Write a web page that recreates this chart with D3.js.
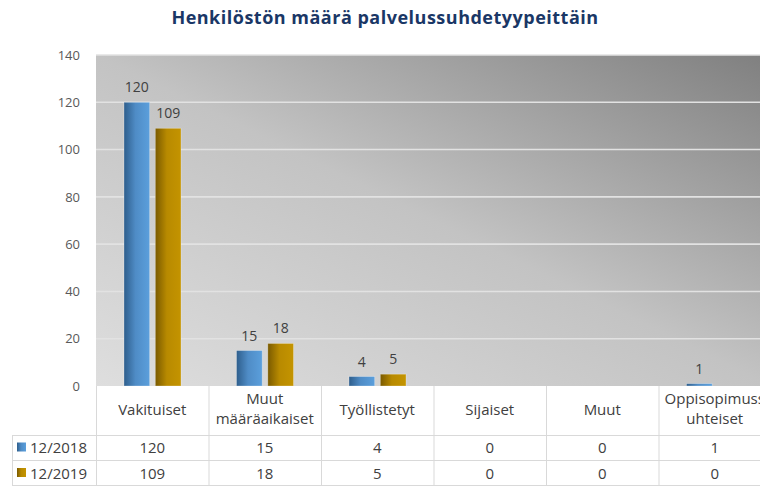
<!DOCTYPE html>
<html>
<head>
<meta charset="utf-8">
<script src="https://cdn.jsdelivr.net/npm/d3@7"></script>
<style>
  body { margin: 0; background: #fff; }
  svg { display: block; font-family: "Open Sans", sans-serif; }
</style>
</head>
<body>
<div id="chart"></div>
<script>
const width = 760;
const height = 486;
const margin = {top: 55, right: -11, bottom: 100, left: 96};

// Data
const categories = ['Vakituiset', 'Muut määräaikaiset', 'Työllistetyt', 'Sijaiset', 'Muut', 'Oppisopimussuhteiset'];
const categoryLines = [['Vakituiset'], ['Muut', 'määräaikaiset'], ['Työllistetyt'], ['Sijaiset'], ['Muut'], ['Oppisopimuss', 'uhteiset']];
const seriesNames = ['12/2018', '12/2019'];
const values2018 = [120, 15, 4, 0, 0, 1];
const values2019 = [109, 18, 5, 0, 0, 0];
const yTicks = [0, 20, 40, 60, 80, 100, 120, 140];

const seriesValues = [values2018, values2019];
const plotBottom = height - margin.bottom;

let svg = d3.select('#chart')
  .append('svg')
    .attr('width', width)
    .attr('height', height);

// Gradients
let defs = svg.append('defs');
let bg = defs.append('linearGradient')
  .attr('id', 'bg-grad')
  .attr('x1', 0).attr('y1', 1).attr('x2', 1).attr('y2', 0);
bg.append('stop').attr('offset', 0).attr('stop-color', '#dedede');
bg.append('stop').attr('offset', 0.5).attr('stop-color', '#c3c3c3');
bg.append('stop').attr('offset', 1).attr('stop-color', '#7f7f7f');

const barColors = [['#2e5e8c', '#4f8cc6', '#5b9fdc'], ['#7a5a00', '#b88a00', '#c49400']];
barColors.forEach((c, i) => {
  let g = defs.append('linearGradient')
    .attr('id', 'bar-grad-' + i)
    .attr('x1', 0).attr('y1', 0).attr('x2', 1).attr('y2', 0);
  g.append('stop').attr('offset', 0).attr('stop-color', c[0]);
  g.append('stop').attr('offset', 0.45).attr('stop-color', c[1]);
  g.append('stop').attr('offset', 1).attr('stop-color', c[2]);
});

// Scales
let x = d3.scaleBand()
  .domain(categories)
  .range([margin.left, width - margin.right])
  .padding(0);
let xInner = d3.scaleBand()
  .domain(seriesNames)
  .range([28, x.bandwidth() - 27.5])
  .paddingInner(0.18);
let y = d3.scaleLinear()
  .domain([0, 140])
  .range([plotBottom, margin.top]);

// Plot background
svg.append('rect')
  .attr('x', margin.left)
  .attr('y', margin.top)
  .attr('width', width - margin.right - margin.left)
  .attr('height', plotBottom - margin.top)
  .attr('fill', 'url(#bg-grad)');

// Gridlines
svg.append('g')
  .attr('class', 'grid')
  .selectAll('line')
  .data(yTicks.filter(d => d > 0))
  .join('line')
    .attr('x1', margin.left)
    .attr('x2', width - margin.right)
    .attr('y1', d => y(d))
    .attr('y2', d => y(d))
    .attr('stroke', '#e2e2e2')
    .attr('stroke-width', 1.6);

// Bars
let groups = svg.append('g')
  .selectAll('g')
  .data(categories)
  .join('g')
    .attr('transform', d => 'translate(' + x(d) + ',0)');

groups.selectAll('rect')
  .data((d, i) => seriesNames.map((s, j) => ({series: s, j: j, value: seriesValues[j][i]})))
  .join('rect')
    .attr('x', d => xInner(d.series))
    .attr('y', d => y(d.value))
    .attr('width', xInner.bandwidth())
    .attr('height', d => plotBottom - y(d.value))
    .attr('fill', d => 'url(#bar-grad-' + d.j + ')')
    .attr('stroke', 'rgba(255,255,255,0.35)')
    .attr('stroke-width', 0.8);

// Data labels (non-zero only)
groups.selectAll('text')
  .data((d, i) => seriesNames.map((s, j) => ({series: s, value: seriesValues[j][i]})).filter(d => d.value > 0))
  .join('text')
    .attr('x', d => xInner(d.series) + xInner.bandwidth() / 2)
    .attr('y', d => y(d.value) - 10)
    .attr('text-anchor', 'middle')
    .attr('font-size', 14)
    .attr('fill', '#404040')
    .text(d => d.value);

// Title
svg.append('text')
  .attr('x', 385)
  .attr('y', 24)
  .attr('text-anchor', 'middle')
  .attr('font-size', 18)
  .attr('font-weight', 'bold')
  .attr('letter-spacing', 0.5)
  .attr('fill', '#1a3766')
  .text('Henkilöstön määrä palvelussuhdetyypeittäin');

// Data table
let table = svg.append('g').attr('class', 'table');
const rowTop = [plotBottom, 435, 460];
const rowBottom = height;
const legendLeft = 12;
const lineColor = '#d9d9d9';
const tableFont = 15;

table.append('rect')
  .attr('x', 0)
  .attr('y', plotBottom)
  .attr('width', width)
  .attr('height', height - plotBottom)
  .attr('fill', '#fff');

// vertical lines
table.selectAll('line.v')
  .data(categories)
  .join('line')
    .attr('class', 'v')
    .attr('x1', d => x(d) + 0.5)
    .attr('x2', d => x(d) + 0.5)
    .attr('y1', plotBottom)
    .attr('y2', rowBottom)
    .attr('stroke', lineColor);
table.append('line')
  .attr('x1', legendLeft + 0.5).attr('x2', legendLeft + 0.5)
  .attr('y1', rowTop[1]).attr('y2', rowBottom)
  .attr('stroke', lineColor);

// horizontal lines
table.selectAll('line.h')
  .data([rowTop[1], rowTop[2], rowBottom - 1])
  .join('line')
    .attr('class', 'h')
    .attr('x1', legendLeft)
    .attr('x2', width)
    .attr('y1', d => d + 0.5)
    .attr('y2', d => d + 0.5)
    .attr('stroke', lineColor);

// header labels
table.selectAll('text.head')
  .data(categories)
  .join('text')
    .attr('class', 'head')
    .attr('x', d => x(d) + x.bandwidth() / 2)
    .attr('y', (d, i) => categoryLines[i].length > 1 ? 404 : 415)
    .attr('text-anchor', 'middle')
    .attr('font-size', tableFont)
    .attr('fill', '#404040')
    .each(function(d, i) {
      d3.select(this).selectAll('tspan')
        .data(categoryLines[i])
        .join('tspan')
          .attr('x', x(d) + x.bandwidth() / 2)
          .attr('dy', (t, k) => k === 0 ? 0 : 20)
          .text(t => t);
    });

// value rows
seriesNames.forEach((s, j) => {
  let cy = (rowTop[j + 1] + (j === 0 ? rowTop[2] : rowBottom)) / 2;
  table.append('rect')
    .attr('x', 17)
    .attr('y', cy - 5)
    .attr('width', 9)
    .attr('height', 9)
    .attr('fill', 'url(#bar-grad-' + j + ')');
  table.append('text')
    .attr('x', 30)
    .attr('y', cy + 5.5)
    .attr('font-size', tableFont)
    .attr('fill', '#404040')
    .text(s);
  table.selectAll('text.val' + j)
    .data(categories)
    .join('text')
      .attr('class', 'val' + j)
      .attr('x', d => x(d) + x.bandwidth() / 2)
      .attr('y', cy + 5.5)
      .attr('text-anchor', 'middle')
      .attr('font-size', tableFont)
      .attr('fill', '#404040')
      .text((d, i) => seriesValues[j][i]);
});

// Y axis (drawn last so the 0 label sits above the table background)
let yAxis = svg.append('g')
  .attr('transform', 'translate(' + margin.left + ',0)')
  .call(d3.axisLeft(y).tickValues(yTicks).tickSize(0).tickPadding(16));
yAxis.select('.domain').remove();
yAxis.selectAll('text')
  .attr('fill', '#595959')
  .attr('font-size', 13)
  .attr('font-family', '"Open Sans", sans-serif');
</script>
</body>
</html>
